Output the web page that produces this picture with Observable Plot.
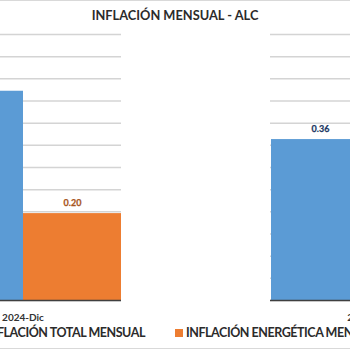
<!DOCTYPE html>
<html>
<head>
<meta charset="utf-8">
<script src="https://cdn.jsdelivr.net/npm/d3@7"></script>
<script src="https://cdn.jsdelivr.net/npm/@observablehq/plot@0.6"></script>
<style>
  html, body { margin: 0; padding: 0; background: #fff; }
  #wrap { position: relative; width: 350px; height: 350px; overflow: hidden; background: #fff; font-family: Lato, "Open Sans", sans-serif; }
  #title { position: absolute; left: 0; width: 350px; top: 9px; text-align: center; font-weight: bold; font-size: 12.8px; line-height: 1; color: #2b2b2b; }
  #topline, #botline { position: absolute; left: 0; width: 350px; height: 1px; background: #d9d9d9; }
  #topline { top: 0; }
  #botline { top: 348px; }
  #chart { position: absolute; top: 0; left: -111px; width: 614px; height: 325px; }
  #chart svg { max-width: none !important; display: block; }
  .leg { position: absolute; top: 327px; font-weight: bold; font-size: 12.5px; letter-spacing: -0.45px; line-height: 1; color: #2b2b2b; white-space: nowrap; }
  .sw { display: inline-block; width: 8px; height: 8px; margin-right: 3px; vertical-align: 0px; }
</style>
</head>
<body>
<div id="wrap">
  <div id="topline"></div>
  <div id="title"></div>
  <div id="chart"></div>
  <div id="botline"></div>
</div>
<script>
const months = ["2024-Dic", "2025-Ene"];
const seriesNames = ["INFLACIÓN TOTAL MENSUAL", "INFLACIÓN ENERGÉTICA MENSUAL"];
const totalValues = [0.472, 0.363];
const energyValues = [0.196, 0.15];
const seriesColors = ["#5B9BD5", "#ED7D31"];
const labelColors = ["#203864", "#A8561E"];
const titleText = "INFLACIÓN MENSUAL - ALC";

const data = [];
months.forEach((m, i) => {
  data.push({month: m, series: seriesNames[0], value: totalValues[i]});
  data.push({month: m, series: seriesNames[1], value: energyValues[i]});
});

document.getElementById("title").textContent = titleText;

const marks = [
  Plot.gridY({interval: 0.05, stroke: "#d4d4d4", strokeOpacity: 1, strokeWidth: 1.5}),
  Plot.barY(data, {fx: "month", x: "series", y: "value", fill: "series", inset: 0}),
  Plot.ruleY([0], {stroke: "#404040", strokeWidth: 1.6}),
  Plot.axisFx({anchor: "bottom", tickSize: 0, tickPadding: 13, label: null, fontSize: 10, fontWeight: "bold", fill: "#333"})
];
seriesNames.forEach((s, k) => {
  marks.push(Plot.text(data.filter(d => d.series === s), {
    fx: "month", x: "series", y: "value", text: d => d.value.toFixed(2),
    dy: -10, fill: labelColors[k], fontSize: 9, fontWeight: "bold", stroke: labelColors[k], strokeWidth: 0.25
  }));
});

const chart = Plot.plot({
  width: 614,
  height: 325,
  marginLeft: 0,
  marginRight: 0,
  marginTop: 34,
  marginBottom: 25,
  style: {fontFamily: "Lato, 'Open Sans', sans-serif", background: "transparent", maxWidth: "none"},
  fx: {domain: months, paddingInner: 0.43, paddingOuter: 0.1, label: null},
  x: {domain: seriesNames, padding: 0, axis: null},
  y: {domain: [0, 0.6], axis: null},
  color: {domain: seriesNames, range: seriesColors},
  marks
});
document.getElementById("chart").appendChild(chart);

// legend
const wrap = document.getElementById("wrap");
const leg1 = document.createElement("div");
leg1.className = "leg";
leg1.style.right = (350 - 145) + "px";
leg1.innerHTML = `<span class="sw" style="background:${seriesColors[0]}"></span>`;
leg1.appendChild(document.createTextNode(seriesNames[0]));
wrap.appendChild(leg1);
const leg2 = document.createElement("div");
leg2.className = "leg";
leg2.style.left = "175px";
leg2.innerHTML = `<span class="sw" style="background:${seriesColors[1]}"></span>`;
leg2.appendChild(document.createTextNode(seriesNames[1]));
wrap.appendChild(leg2);
</script>
</body>
</html>
